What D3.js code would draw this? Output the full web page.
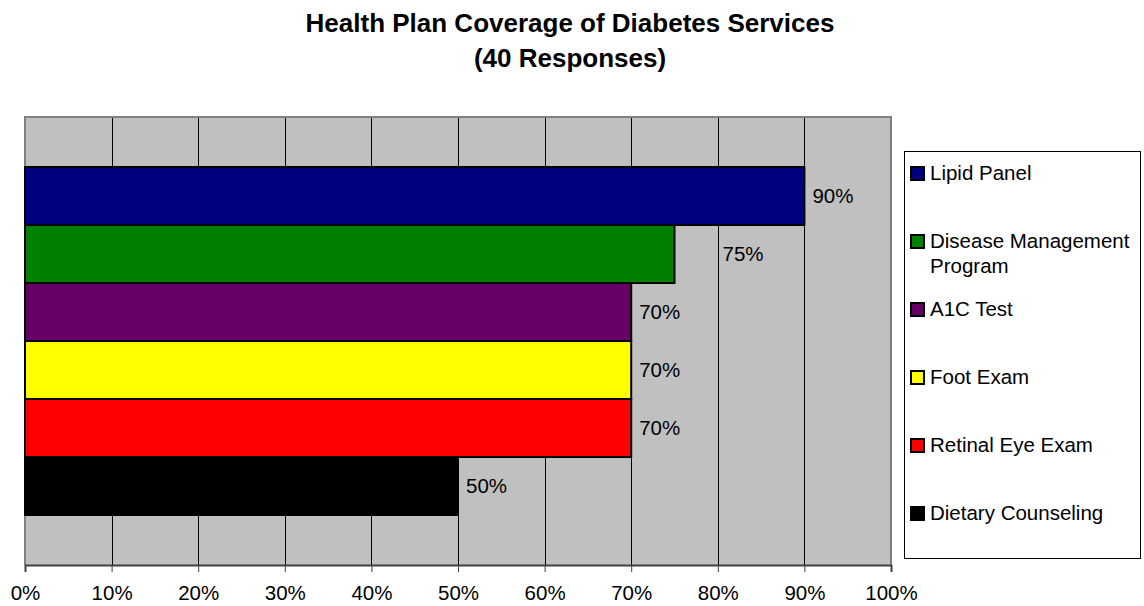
<!DOCTYPE html>
<html>
<head>
<meta charset="utf-8">
<script src="https://cdn.jsdelivr.net/npm/d3@7"></script>
<style>
  body { margin: 0; background: #fff; }
  text { font-family: "Liberation Sans", Arial, sans-serif; fill: #000; }
</style>
</head>
<body>
<div id="vis"></div>
<script>
// series, top to bottom (same order as the legend)
const SERIES = ["Lipid Panel", "Disease Management Program", "A1C Test", "Foot Exam", "Retinal Eye Exam", "Dietary Counseling"];
const VALUES = [0.90, 0.75, 0.70, 0.70, 0.70, 0.50];
const COLORS = ["#000080", "#008000", "#660066", "#ffff00", "#ff0000", "#000000"];
const X_TICKS = [0, 0.1, 0.2, 0.3, 0.4, 0.5, 0.6, 0.7, 0.8, 0.9, 1.0];
const TITLE = ["Health Plan Coverage of Diabetes Services", "(40 Responses)"];

const width = 1144;
const height = 606;
const plot = { left: 25, right: 891, top: 117, bottom: 565 };

const svg = d3.select("#vis").append("svg")
    .attr("width", width)
    .attr("height", height);

const data = SERIES.map((name, i) => ({ name, value: VALUES[i], color: COLORS[i] }));

const x = d3.scaleLinear()
    .domain([0, 1])
    .range([plot.left, plot.right]);

const y = d3.scaleBand()
    .domain(SERIES)
    .range([plot.top, plot.bottom])
    .paddingInner(0)
    .paddingOuter(0.862);

// title
svg.append("g").selectAll("text")
    .data(TITLE)
    .join("text")
    .attr("x", 570)
    .attr("y", (d, i) => 32 + i * 35)
    .attr("text-anchor", "middle")
    .style("font-size", "26px")
    .style("font-weight", "bold")
    .text(d => d);

// plot background
svg.append("rect")
    .attr("x", plot.left)
    .attr("y", plot.top)
    .attr("width", plot.right - plot.left)
    .attr("height", plot.bottom - plot.top)
    .attr("fill", "#c0c0c0");

// vertical gridlines
svg.append("g").selectAll("line")
    .data(X_TICKS.slice(1, -1))
    .join("line")
    .attr("x1", d => Math.round(x(d)) + 0.5)
    .attr("x2", d => Math.round(x(d)) + 0.5)
    .attr("y1", plot.top)
    .attr("y2", plot.bottom)
    .attr("stroke", "#000")
    .attr("stroke-width", 1);

// plot border (grey, like excel)
svg.append("path")
    .attr("d", `M${plot.left},${plot.bottom} V${plot.top} H${plot.right} V${plot.bottom}`)
    .attr("fill", "none")
    .attr("stroke", "#808080")
    .attr("stroke-width", 2);

// bars
svg.append("g").selectAll("rect")
    .data(data)
    .join("rect")
    .attr("x", x(0))
    .attr("y", d => y(d.name))
    .attr("width", d => x(d.value) - x(0))
    .attr("height", y.bandwidth())
    .attr("fill", d => d.color)
    .attr("stroke", "#000")
    .attr("stroke-width", 2);

// value labels (excel pushed the 75% one out past the 80% line)
svg.append("g").selectAll("text")
    .data(data)
    .join("text")
    .attr("x", d => x(d.value) + (d.name === "Disease Management Program" ? 48 : 8))
    .attr("y", d => y(d.name) + y.bandwidth() / 2)
    .attr("dy", "0.35em")
    .style("font-size", "20.5px")
    .text(d => d3.format(".0%")(d.value));

// x axis
const xAxis = svg.append("g")
    .attr("transform", `translate(0, ${plot.bottom})`)
    .call(d3.axisBottom(x)
        .tickValues(X_TICKS)
        .tickFormat(d3.format(".0%"))
        .tickSize(7)
        .tickPadding(13));

xAxis.select(".domain")
    .attr("stroke", "#404040")
    .attr("stroke-width", 2);
xAxis.selectAll(".tick line").attr("stroke", "#404040");
xAxis.selectAll(".tick text")
    .style("font-size", "20.5px")
    .style("font-family", "'Liberation Sans', Arial, sans-serif")
    .attr("fill", "#000");

// legend
const legend = svg.append("g");
legend.append("rect")
    .attr("x", 904.5)
    .attr("y", 151.5)
    .attr("width", 236)
    .attr("height", 407)
    .attr("fill", "#fff")
    .attr("stroke", "#000")
    .attr("stroke-width", 1);

const item = legend.selectAll(".legend-item")
    .data(data)
    .join("g")
    .attr("class", "legend-item")
    .attr("transform", (d, i) => `translate(910, ${173 + i * 68})`);

item.append("rect")
    .attr("x", 1)
    .attr("y", -6)
    .attr("width", 13)
    .attr("height", 13)
    .attr("fill", d => d.color)
    .attr("stroke", "#000")
    .attr("stroke-width", 2);

item.append("text")
    .attr("x", 20)
    .style("font-size", "20.5px")
    .each(function(d) {
        // wrap long names onto a second line
        const t = d3.select(this);
        const words = d.name.split(" ");
        let line = [];
        let tspan = t.append("tspan").attr("x", 20).attr("dy", "0.35em");
        let lineNo = 0;
        words.forEach(w => {
            line.push(w);
            tspan.text(line.join(" "));
            if (tspan.node().getComputedTextLength() > 210 && line.length > 1) {
                line.pop();
                tspan.text(line.join(" "));
                line = [w];
                lineNo++;
                tspan = t.append("tspan").attr("x", 20).attr("dy", "25px").text(w);
            }
        });
    });
</script>
</body>
</html>
